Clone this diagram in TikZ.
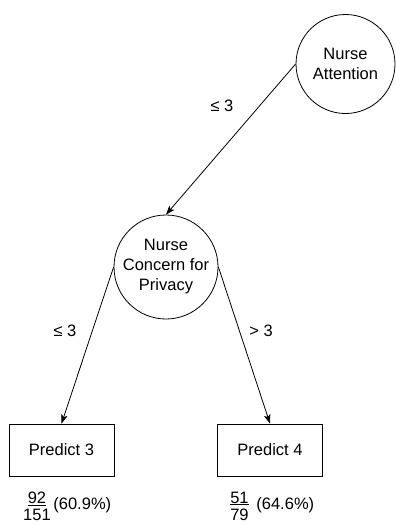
\documentclass[tikz,border=0pt]{standalone}
\usepackage{fontspec}
\setmainfont{Liberation Sans}
\usetikzlibrary{shapes.geometric}
\usetikzlibrary{arrows.meta}
\newcommand{\treefont}{\fontsize{16.5}{20}\selectfont}

\begin{document}
\begin{tikzpicture}[x=1pt, y=-1pt, line width=0.8pt, >={Stealth[length=9pt,width=6.5pt,inset=2pt]}]
			\tikzstyle{split}=[circle, draw=black, minimum size=102pt, inner sep=0pt, align=center, font=\treefont]
			\tikzstyle{leaf}=[rectangle, draw=black, minimum width=105pt, minimum height=52pt, inner sep=0pt, font=\treefont]
			\tikzstyle{cond}=[inner sep=1pt, font=\treefont]
			\tikzstyle{frac}=[inner sep=0pt, align=center, font=\treefont]
			\useasboundingbox (0,0) rectangle (396,525);
			
			% Split nodes
			\node[split, minimum size=99pt] (attention) at (345.5,64) {Nurse\\Attention};
			\node[split, minimum size=104pt] (concern) at (166,267) {Nurse\\Concern for\\Privacy};
			
			% Leaves
			\node[leaf] (predict3) at (61.5,450) {Predict 3};
			\node[leaf] (predict4) at (270,450) {Predict 4};
			
			% Counts below leaves
			\node[frac] (count3) at (37,506) {\underline{92}\\[-3pt]151};
			\node[frac, anchor=west] (share3) at (53,505) {(60.9\%)};
			\node[frac] (count4) at (239.5,506) {\underline{51}\\[-3pt]79};
			\node[frac, anchor=west] (share4) at (256,505) {(64.6\%)};
			
			% Draw arrows
			\path[->] (attention.west) edge (concern.north);
			\path[->] (concern.west) edge (predict3.north);
			\path[->] (concern.east) edge (predict4.north);
			
			% Conditions
			\node[cond] (lowA) at (222,106) {≤ 3};
			\node[cond] (lowB) at (65,331) {≤ 3};
			\node[cond] (highB) at (261,331) {> 3};
			
		\end{tikzpicture}
\end{document}
